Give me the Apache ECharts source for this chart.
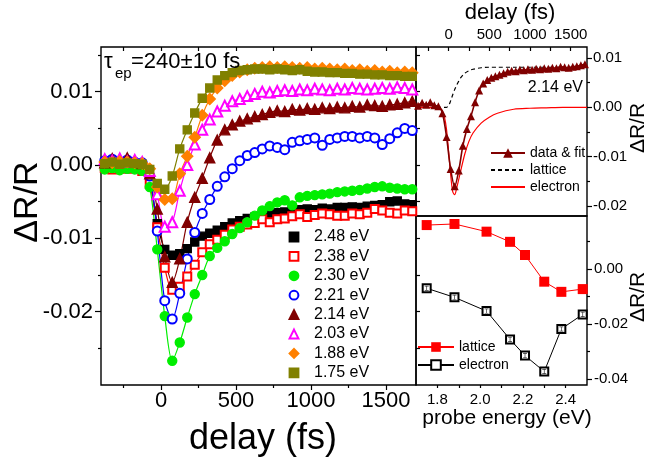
<!DOCTYPE html>
<html><head><meta charset="utf-8">
<script src="https://cdn.jsdelivr.net/npm/echarts@6.0.0/dist/echarts.min.js"></script>
<style>html,body{margin:0;padding:0;background:#fff}#c{width:648px;height:459px}</style>
</head><body><div id="c"></div>
<script>
// ---------- data ----------
const delays = [-375,-325,-275,-225,-175,-125,-75,-25,25,75,125,175,225,275,325,375,425,475,525,575,625,675,725,775,825,875,925,975,1025,1075,1125,1175,1225,1275,1325,1375,1425,1475,1525,1575,1625,1675];
const probeLabels = ['2.48 eV','2.38 eV','2.30 eV','2.21 eV','2.14 eV','2.03 eV','1.88 eV','1.75 eV'];
const dR_248 = [0.0000,-0.0002,0.0001,-0.0001,0.0000,-0.0003,-0.0020,-0.0080,-0.0115,-0.0123,-0.0121,-0.0114,-0.0105,-0.0097,-0.0093,-0.0089,-0.0084,-0.0079,-0.0076,-0.0073,-0.0071,-0.0069,-0.0067,-0.0065,-0.0064,-0.0062,-0.0061,-0.0060,-0.0061,-0.0059,-0.0060,-0.0058,-0.0058,-0.0057,-0.0058,-0.0056,-0.0055,-0.0054,-0.0050,-0.0049,-0.0053,-0.0054];
const dR_238 = [-0.0004,-0.0006,-0.0003,-0.0005,-0.0004,-0.0008,-0.0026,-0.0085,-0.0140,-0.0170,-0.0166,-0.0152,-0.0136,-0.0119,-0.0108,-0.0102,-0.0095,-0.0088,-0.0084,-0.0081,-0.0079,-0.0074,-0.0078,-0.0074,-0.0073,-0.0070,-0.0067,-0.0071,-0.0068,-0.0066,-0.0067,-0.0069,-0.0069,-0.0066,-0.0067,-0.0065,-0.0060,-0.0062,-0.0065,-0.0066,-0.0062,-0.0063];
const dR_230 = [-0.0006,-0.0004,-0.0007,-0.0005,-0.0006,-0.0008,-0.0030,-0.0115,-0.0206,-0.0267,-0.0242,-0.0208,-0.0176,-0.0150,-0.0124,-0.0113,-0.0104,-0.0094,-0.0086,-0.0078,-0.0069,-0.0062,-0.0056,-0.0051,-0.0048,-0.0055,-0.0044,-0.0042,-0.0041,-0.0040,-0.0039,-0.0037,-0.0036,-0.0035,-0.0034,-0.0032,-0.0030,-0.0029,-0.0031,-0.0032,-0.0033,-0.0033];
const dR_221 = [0.0006,0.0008,0.0005,0.0007,0.0004,0.0003,-0.0015,-0.0090,-0.0185,-0.0210,-0.0175,-0.0128,-0.0092,-0.0066,-0.0047,-0.0029,-0.0016,-0.0005,0.0006,0.0013,0.0017,0.0022,0.0026,0.0024,0.0021,0.0031,0.0033,0.0035,0.0037,0.0027,0.0035,0.0037,0.0039,0.0039,0.0037,0.0039,0.0037,0.0028,0.0036,0.0044,0.0050,0.0047];
const dR_214 = [0.0003,0.0009,0.0005,0.0010,0.0004,0.0002,-0.0012,-0.0060,-0.0125,-0.0160,-0.0128,-0.0078,-0.0044,-0.0018,0.0010,0.0034,0.0048,0.0055,0.0060,0.0063,0.0066,0.0069,0.0072,0.0074,0.0073,0.0076,0.0075,0.0077,0.0076,0.0078,0.0077,0.0079,0.0078,0.0080,0.0079,0.0082,0.0081,0.0080,0.0082,0.0083,0.0085,0.0087];
const dR_203 = [0.0008,0.0006,0.0009,0.0005,0.0007,0.0004,-0.0008,-0.0040,-0.0084,-0.0078,-0.0035,0.0000,0.0028,0.0048,0.0062,0.0073,0.0081,0.0087,0.0090,0.0094,0.0097,0.0100,0.0099,0.0101,0.0102,0.0101,0.0103,0.0102,0.0104,0.0103,0.0102,0.0104,0.0103,0.0105,0.0104,0.0103,0.0104,0.0105,0.0104,0.0106,0.0105,0.0103];
const dR_188 = [0.0004,0.0003,0.0005,0.0004,0.0003,0.0002,-0.0005,-0.0030,-0.0047,-0.0046,-0.0012,0.0012,0.0038,0.0068,0.0090,0.0105,0.0115,0.0122,0.0127,0.0130,0.0132,0.0133,0.0134,0.0133,0.0134,0.0133,0.0132,0.0133,0.0131,0.0132,0.0131,0.0130,0.0131,0.0129,0.0130,0.0128,0.0129,0.0127,0.0128,0.0126,0.0127,0.0126];
const dR_175 = [0.0002,0.0004,0.0001,0.0003,0.0002,0.0001,-0.0006,-0.0025,-0.0033,-0.0015,0.0022,0.0048,0.0071,0.0091,0.0105,0.0116,0.0122,0.0126,0.0129,0.0130,0.0131,0.0131,0.0130,0.0131,0.0130,0.0129,0.0130,0.0128,0.0127,0.0127,0.0126,0.0126,0.0125,0.0125,0.0124,0.0124,0.0123,0.0123,0.0122,0.0122,0.0121,0.0121];

// inset (2.14 eV) fit components
const fitDelays = [-400,-200,-100,-75,-50,-25,0,25,50,75,100,125,150,200,250,300,400,500,600,800,1000,1200,1400,1700];
const latticeFit = [0,0,0,0,0,0,0.0003,0.0013,0.0025,0.0036,0.0045,0.0053,0.0060,0.0069,0.0074,0.0077,0.0080,0.0081,0.0081,0.0081,0.0081,0.0081,0.0081,0.0081];
const electronFit = [0,0,-0.0002,-0.0008,-0.0020,-0.0045,-0.0088,-0.0135,-0.0170,-0.0177,-0.0163,-0.0146,-0.0128,-0.0094,-0.0069,-0.0052,-0.0032,-0.0020,-0.0012,-0.0004,-0.0002,-0.0001,0,0];

// amplitudes vs probe energy
const energies = [1.75,1.88,2.03,2.14,2.21,2.30,2.38,2.48];
const latticeAmp = [0.0160,0.0164,0.0136,0.0099,0.0051,-0.0046,-0.0083,-0.0073];
const electronAmp = [-0.0070,-0.0103,-0.0153,-0.0256,-0.0315,-0.0373,-0.0218,-0.0165];

// tick values
const delayLabelTicks = [0,500,1000,1500];
const delayMinorTicks = [-250,250,750,1250];
const delayAllTicks = [-250,0,250,500,750,1000,1250,1500];
const mainYMajor = [-0.02,-0.01,0,0.01];
const mainYMinor = [-0.025,-0.015,-0.005,0.005,0.015];
const mainYAll = [-0.025,-0.02,-0.015,-0.01,-0.005,0,0.005,0.01,0.015];
const insetYMajor = [-0.02,-0.01,0,0.01];
const insetYMinor = [-0.015,-0.005,0.005];
const ampYMajor = [-0.04,-0.02,0];
const ampYMinor = [-0.03,-0.01,0.01];
const energyLabels = [1.8,2.0,2.2,2.4];
const energyTicks = [1.8,1.9,2.0,2.1,2.2,2.3,2.4];

// ---------- chart ----------
const FONT = '"Liberation Sans", Arial, Helvetica, sans-serif';
const BLACK = '#000';
const chart = echarts.init(document.getElementById('c'), null, {renderer:'canvas', width:648, height:459});
const pairs = (xs, ys) => xs.map((x, i) => [x, ys[i]]);

const mainStyles = [
  {vals: dR_248, symbol:'rect', color:'#000000', size:8},
  {vals: dR_238, symbol:'emptyRect', color:'#ff0000', size:8},
  {vals: dR_230, symbol:'circle', color:'#00ee00', size:9},
  {vals: dR_221, symbol:'emptyCircle', color:'#0000ff', size:9},
  {vals: dR_214, symbol:'triangle', color:'#800000', size:10},
  {vals: dR_203, symbol:'emptyTriangle', color:'#ff00ff', size:10},
  {vals: dR_188, symbol:'diamond', color:'#ff8000', size:11},
  {vals: dR_175, symbol:'rect', color:'#808000', size:8}
];

const series = mainStyles.map((s, i) => ({
  type:'line', name: probeLabels[i], xAxisIndex:0, yAxisIndex:0,
  data: pairs(delays, s.vals), symbol: s.symbol, symbolSize: s.size,
  smooth: 0.3, lineStyle:{color:s.color, width:1.2},
  itemStyle:{color:s.color, borderColor:s.color, borderWidth:1.4},
  emphasis:{disabled:true}
}));

series.push(
  {type:'line', name:'data & fit', xAxisIndex:3, yAxisIndex:3, data: pairs(delays, dR_214),
   symbol:'triangle', symbolSize:8, smooth:0.3, lineStyle:{color:'#800000', width:1.6},
   itemStyle:{color:'#800000'}, emphasis:{disabled:true}, z:3},
  {type:'line', name:'lattice#1', xAxisIndex:3, yAxisIndex:3, data: pairs(fitDelays, latticeFit),
   symbol:'none', smooth:0.3, lineStyle:{color:'#000', width:1.2, type:[4,3]}, itemStyle:{color:'#000'}, z:2},
  {type:'line', name:'electron#1', xAxisIndex:3, yAxisIndex:3, data: pairs(fitDelays, electronFit),
   symbol:'none', smooth:0.3, lineStyle:{color:'#ff0000', width:1.2}, itemStyle:{color:'#ff0000'}, z:2},
  {type:'line', name:'lattice#2', xAxisIndex:4, yAxisIndex:5, data: pairs(energies, latticeAmp),
   symbol:'rect', symbolSize:10, lineStyle:{color:'#ff0000', width:1}, itemStyle:{color:'#ff0000'}},
  {type:'line', name:'electron#2', xAxisIndex:4, yAxisIndex:5, data: pairs(energies, electronAmp),
   symbol:'emptyRect', symbolSize:8, lineStyle:{color:'#000', width:1}, itemStyle:{color:'#000', borderColor:'#000', borderWidth:1}},
  {type:'scatter', name:'err', xAxisIndex:4, yAxisIndex:5, data: pairs(energies, electronAmp), silent:true,
   symbol:'path://M0,0L4,0L4,0.7L2.35,0.7L2.35,4.3L4,4.3L4,5L0,5L0,4.3L1.65,4.3L1.65,0.7L0,0.7Z',
   symbolSize:[4,5], itemStyle:{color:'#000'}, z:5}
);

const noLine = {show:false, onZero:false};
function tick(vals, len, inside, w){ return {show:true, customValues: vals, length: len, inside: !!inside, lineStyle:{color:BLACK, width: w || 1.2}}; }
const hiddenLabel = {show:false};
const plain = v => String(v);

const xAxis = [
  {gridIndex:0, type:'value', min:-400, max:1700, position:'bottom', axisLine:noLine, splitLine:{show:false},
   axisTick: tick(delayLabelTicks, 5), axisLabel:{customValues: delayLabelTicks, fontSize:22, color:BLACK, fontFamily:FONT, margin:5, formatter: plain}},
  {gridIndex:0, type:'value', min:-400, max:1700, position:'bottom', axisLine:noLine, splitLine:{show:false},
   axisTick: tick(delayMinorTicks, 3), axisLabel:hiddenLabel},
  {gridIndex:0, type:'value', min:-400, max:1700, position:'top', axisLine:noLine, splitLine:{show:false},
   axisTick: tick(delayAllTicks, 4, true), axisLabel:hiddenLabel},
  {gridIndex:1, type:'value', min:-400, max:1700, position:'top', axisLine:noLine, splitLine:{show:false},
   axisTick: tick(delayAllTicks, 4, true), axisLabel:{customValues: delayLabelTicks, fontSize:15, color:BLACK, fontFamily:FONT, margin:5, formatter: plain}},
  {gridIndex:2, type:'value', min:1.7, max:2.5, position:'bottom', axisLine:noLine, splitLine:{show:false},
   axisTick: tick(energyTicks, 3), axisLabel:{customValues: energyLabels, fontSize:15, color:BLACK, fontFamily:FONT, margin:7, formatter: v => v.toFixed(1)}}
];

const yAxis = [
  {gridIndex:0, type:'value', min:-0.03, max:0.0161, position:'left', axisLine:noLine, splitLine:{show:false},
   axisTick: tick(mainYMajor, 6), axisLabel:{customValues: mainYMajor, fontSize:22, color:BLACK, fontFamily:FONT, margin:8, formatter: v => v.toFixed(2)}},
  {gridIndex:0, type:'value', min:-0.03, max:0.0161, position:'left', axisLine:noLine, splitLine:{show:false},
   axisTick: tick(mainYMinor, 3), axisLabel:hiddenLabel},
  {gridIndex:0, type:'value', min:-0.03, max:0.0161, position:'right', axisLine:noLine, splitLine:{show:false},
   axisTick: tick(mainYAll, 4), axisLabel:hiddenLabel},
  {gridIndex:1, type:'value', min:-0.022, max:0.0122, position:'right', axisLine:noLine, splitLine:{show:false},
   axisTick: tick(insetYMajor, 5), axisLabel:{customValues: insetYMajor, fontSize:15, color:BLACK, fontFamily:FONT, margin:6, formatter: v => v.toFixed(2)}},
  {gridIndex:1, type:'value', min:-0.022, max:0.0122, position:'right', axisLine:noLine, splitLine:{show:false},
   axisTick: tick(insetYMinor, 3), axisLabel:hiddenLabel},
  {gridIndex:2, type:'value', min:-0.0422, max:0.0193, position:'right', axisLine:noLine, splitLine:{show:false},
   axisTick: tick(ampYMajor, 5), axisLabel:{customValues: ampYMajor, fontSize:15, color:BLACK, fontFamily:FONT, margin:7, formatter: v => v.toFixed(2)}},
  {gridIndex:2, type:'value', min:-0.0422, max:0.0193, position:'right', axisLine:noLine, splitLine:{show:false},
   axisTick: tick(ampYMinor, 3), axisLabel:hiddenLabel}
];

const gridBase = {show:true, borderColor:BLACK, borderWidth:1.4, backgroundColor:'transparent', containLabel:false, outerBoundsMode:'none'};
const grid = [
  Object.assign({left:101, top:47, width:315, height:338}, gridBase),
  Object.assign({left:416, top:47, width:171, height:169}, gridBase),
  Object.assign({left:416, top:216, width:171, height:169}, gridBase)
];

const txt = (text, x, y, size, opts) => Object.assign({type:'text', x, y, silent:true, z:10,
  style:{text, fontSize:size, fontFamily:FONT, fill:BLACK, align:'center', verticalAlign:'middle'}}, opts || {});

const graphic = [
  txt('ΔR/R', 28, 202, 34, {rotation: Math.PI/2}),
  txt('delay (fs)', 263, 439, 36),
  txt('τ', 104, 62, 22), txt('ep', 115, 74, 15), txt('=240±10 fs', 131, 62, 22),
  txt('delay (fs)', 510, 13, 22),
  txt('2.14 eV', 583, 88, 16),
  txt('ΔR/R', 638.5, 128, 21, {rotation: Math.PI/2}),
  txt('ΔR/R', 638.5, 297, 21, {rotation: Math.PI/2}),
  txt('probe energy (eV)', 507, 418, 21)
];
graphic[2].style.align = 'left'; graphic[3].style.align = 'left'; graphic[4].style.align = 'left';
graphic[6].style.align = 'right';

const legTxt = size => ({fontSize:size, color:BLACK, fontFamily:FONT});
const noSym = {color:'rgba(0,0,0,0)', borderColor:'rgba(0,0,0,0)', opacity:0};
const legend = [
  {data: probeLabels, orient:'vertical', left:278, top:229, itemWidth:30, itemHeight:11, itemGap:3.4,
   textStyle: legTxt(16), lineStyle:{opacity:0}, selectedMode:false, padding:0},
  {data: [{name:'data & fit'}, {name:'lattice#1', itemStyle:noSym}, {name:'electron#1', itemStyle:noSym}],
   orient:'vertical', left:490, top:146, itemWidth:34, itemHeight:12, itemGap:3,
   textStyle: legTxt(14), formatter: n => n.split('#')[0], selectedMode:false, padding:0},
  {data: ['lattice#2','electron#2'], orient:'vertical', left:417, top:340, itemWidth:36, itemHeight:12, itemGap:4,
   textStyle: legTxt(14), formatter: n => n.split('#')[0], selectedMode:false, padding:0}
];

chart.setOption({animation:false, backgroundColor:'#fff', grid, xAxis, yAxis, series, legend, graphic});
</script></body></html>
